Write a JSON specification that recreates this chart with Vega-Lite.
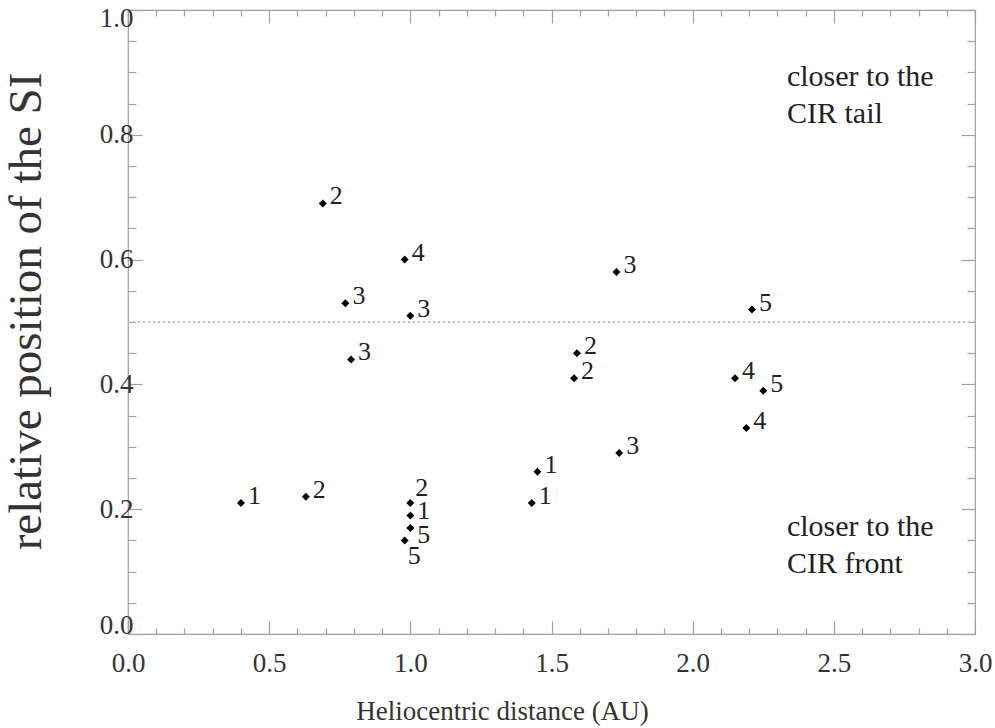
{
  "$schema": "https://vega.github.io/schema/vega-lite/v6.json",
  "width": 847,
  "height": 624,
  "autosize": {"type": "none"},
  "padding": {"left": 128, "top": 10, "right": 20, "bottom": 94},
  "background": "white",
  "config": {
    "font": "Liberation Serif",
    "text": {"font": "Liberation Serif"},
    "view": {"stroke": "#a0a0a0", "strokeWidth": 1.2},
    "axis": {
      "domain": false,
      "grid": false,
      "tickColor": "#a0a0a0",
      "tickWidth": 1.2,
      "labelFont": "Liberation Serif",
      "labelColor": "#333333",
      "labelFontSize": 26,
      "titleFont": "Liberation Serif",
      "titleColor": "#333333",
      "titleFontWeight": "normal"
    }
  },
  "data": {
    "values": [
      {"distance": 0.40, "position": 0.21, "label": "1"},
      {"distance": 0.63, "position": 0.22, "label": "2"},
      {"distance": 0.69, "position": 0.69, "label": "2"},
      {"distance": 0.98, "position": 0.60, "label": "4"},
      {"distance": 0.77, "position": 0.53, "label": "3"},
      {"distance": 1.00, "position": 0.51, "label": "3"},
      {"distance": 0.79, "position": 0.44, "label": "3"},
      {"distance": 1.73, "position": 0.58, "label": "3"},
      {"distance": 2.21, "position": 0.52, "label": "5"},
      {"distance": 1.59, "position": 0.45, "label": "2"},
      {"distance": 1.58, "position": 0.41, "label": "2"},
      {"distance": 2.15, "position": 0.41, "label": "4"},
      {"distance": 2.25, "position": 0.39, "label": "5"},
      {"distance": 2.19, "position": 0.33, "label": "4"},
      {"distance": 1.74, "position": 0.29, "label": "3"},
      {"distance": 1.45, "position": 0.26, "label": "1"},
      {"distance": 1.43, "position": 0.21, "label": "1"},
      {"distance": 1.00, "position": 0.21, "label": "2"},
      {"distance": 1.00, "position": 0.19, "label": "1"},
      {"distance": 1.00, "position": 0.17, "label": "5"},
      {"distance": 0.98, "position": 0.15, "label": "5"}
    ]
  },
  "resolve": {"axis": {"x": "independent", "y": "independent"}},
  "layer": [
    {
      "mark": {"type": "point", "shape": "diamond", "filled": true, "color": "black", "size": 64, "opacity": 1},
      "encoding": {
        "x": {
          "field": "distance", "type": "quantitative",
          "scale": {"domain": [0, 3], "nice": false, "zero": false},
          "axis": {
            "orient": "bottom",
            "values": [0, 0.1, 0.2, 0.3, 0.4, 0.5, 0.6, 0.7, 0.8, 0.9, 1, 1.1, 1.2, 1.3, 1.4, 1.5, 1.6, 1.7, 1.8, 1.9, 2, 2.1, 2.2, 2.3, 2.4, 2.5, 2.6, 2.7, 2.8, 2.9, 3],
            "tickSize": {"condition": {"test": "round(datum.value * 10) % 5 === 0", "value": -13}, "value": -6},
            "labelExpr": "round(datum.value * 10) % 5 === 0 ? format(datum.value, '.1f') : ''",
            "labelFont": "Liberation Serif",
            "labelFontSize": 27,
            "labelPadding": 50,
            "labelBaseline": "alphabetic",
            "labelFlush": false,
            "labelOverlap": false,
            "title": "Heliocentric distance (AU)",
            "titleFontSize": 27,
            "titleX": 374,
            "titleY": 85,
            "titleBaseline": "alphabetic",
            "titleAlign": "center",
            "titleAnchor": null
          }
        },
        "y": {
          "field": "position", "type": "quantitative",
          "scale": {"domain": [0, 1], "nice": false, "zero": false},
          "axis": {
            "orient": "left",
            "values": [0, 0.05, 0.1, 0.15, 0.2, 0.25, 0.3, 0.35, 0.4, 0.45, 0.5, 0.55, 0.6, 0.65, 0.7, 0.75, 0.8, 0.85, 0.9, 0.95, 1],
            "tickSize": {"condition": {"test": "round(datum.value * 20) % 4 === 0", "value": -14}, "value": -8},
            "labelExpr": "round(datum.value * 20) % 4 === 0 ? format(datum.value, '.1f') : ''",
            "labelFont": "Liberation Serif",
            "labelFontSize": 27,
            "labelPadding": 9,
            "labelFlush": true,
            "labelFlushOffset": 5,
            "labelOverlap": false,
            "title": "relative position of the SI",
            "titleFontSize": 47,
            "titleAngle": -90,
            "titleX": -88,
            "titleY": 301,
            "titleBaseline": "alphabetic",
            "titleAlign": "center",
            "titleAnchor": null
          }
        }
      }
    },
    {
      "mark": {"type": "point", "opacity": 0},
      "encoding": {
        "x": {
          "field": "distance", "type": "quantitative",
          "axis": {
            "orient": "top",
            "values": [0, 0.1, 0.2, 0.3, 0.4, 0.5, 0.6, 0.7, 0.8, 0.9, 1, 1.1, 1.2, 1.3, 1.4, 1.5, 1.6, 1.7, 1.8, 1.9, 2, 2.1, 2.2, 2.3, 2.4, 2.5, 2.6, 2.7, 2.8, 2.9, 3],
            "tickSize": {"condition": {"test": "round(datum.value * 10) % 5 === 0", "value": -13}, "value": -6},
            "labels": false,
            "title": null
          }
        },
        "y": {
          "field": "position", "type": "quantitative",
          "axis": {
            "orient": "right",
            "values": [0, 0.05, 0.1, 0.15, 0.2, 0.25, 0.3, 0.35, 0.4, 0.45, 0.5, 0.55, 0.6, 0.65, 0.7, 0.75, 0.8, 0.85, 0.9, 0.95, 1],
            "tickSize": {"condition": {"test": "round(datum.value * 20) % 4 === 0", "value": -14}, "value": -8},
            "labels": false,
            "title": null
          }
        }
      }
    },
    {
      "mark": {"type": "rule", "color": "#bdbdbd", "strokeWidth": 1.2, "strokeDash": [2, 3]},
      "encoding": {
        "y": {"datum": 0.5, "type": "quantitative", "axis": null}
      }
    },
    {
      "transform": [{"filter": "!(datum.distance >= 0.97 && datum.distance <= 1.01 && datum.position < 0.22)"}],
      "mark": {"type": "text", "font": "Liberation Serif", "align": "left", "baseline": "alphabetic", "dx": 7, "dy": 1, "fontSize": 26, "color": "#222222"},
      "encoding": {
        "x": {"field": "distance", "type": "quantitative", "axis": null},
        "y": {"field": "position", "type": "quantitative", "axis": null},
        "text": {"field": "label"}
      }
    },
    {
      "transform": [{"filter": "datum.distance >= 0.99 && datum.distance <= 1.01 && datum.position > 0.2 && datum.position < 0.22"}],
      "mark": {"type": "text", "font": "Liberation Serif", "align": "left", "baseline": "alphabetic", "dx": 5, "dy": -7, "fontSize": 26, "color": "#222222"},
      "encoding": {
        "x": {"field": "distance", "type": "quantitative", "axis": null},
        "y": {"field": "position", "type": "quantitative", "axis": null},
        "text": {"field": "label"}
      }
    },
    {
      "transform": [{"filter": "datum.distance >= 0.99 && datum.distance <= 1.01 && datum.position > 0.18 && datum.position < 0.2"}],
      "mark": {"type": "text", "font": "Liberation Serif", "align": "left", "baseline": "alphabetic", "dx": 7, "dy": 4, "fontSize": 26, "color": "#222222"},
      "encoding": {
        "x": {"field": "distance", "type": "quantitative", "axis": null},
        "y": {"field": "position", "type": "quantitative", "axis": null},
        "text": {"field": "label"}
      }
    },
    {
      "transform": [{"filter": "datum.distance >= 0.99 && datum.distance <= 1.01 && datum.position > 0.16 && datum.position < 0.18"}],
      "mark": {"type": "text", "font": "Liberation Serif", "align": "left", "baseline": "alphabetic", "dx": 7, "dy": 15, "fontSize": 26, "color": "#222222"},
      "encoding": {
        "x": {"field": "distance", "type": "quantitative", "axis": null},
        "y": {"field": "position", "type": "quantitative", "axis": null},
        "text": {"field": "label"}
      }
    },
    {
      "transform": [{"filter": "datum.distance < 0.99 && datum.distance > 0.97 && datum.position < 0.16"}],
      "mark": {"type": "text", "font": "Liberation Serif", "align": "left", "baseline": "alphabetic", "dx": 3, "dy": 24, "fontSize": 26, "color": "#222222"},
      "encoding": {
        "x": {"field": "distance", "type": "quantitative", "axis": null},
        "y": {"field": "position", "type": "quantitative", "axis": null},
        "text": {"field": "label"}
      }
    },
    {
      "data": {"values": [
        {"distance": 2.334, "position": 0.878, "note": ["closer to the", "CIR tail"]},
        {"distance": 2.334, "position": 0.157, "note": ["closer to the", "CIR front"]}
      ]},
      "mark": {"type": "text", "font": "Liberation Serif", "align": "left", "baseline": "alphabetic", "fontSize": 30, "lineHeight": 37, "color": "#222222"},
      "encoding": {
        "x": {"field": "distance", "type": "quantitative", "axis": null},
        "y": {"field": "position", "type": "quantitative", "axis": null},
        "text": {"field": "note"}
      }
    }
  ]
}
